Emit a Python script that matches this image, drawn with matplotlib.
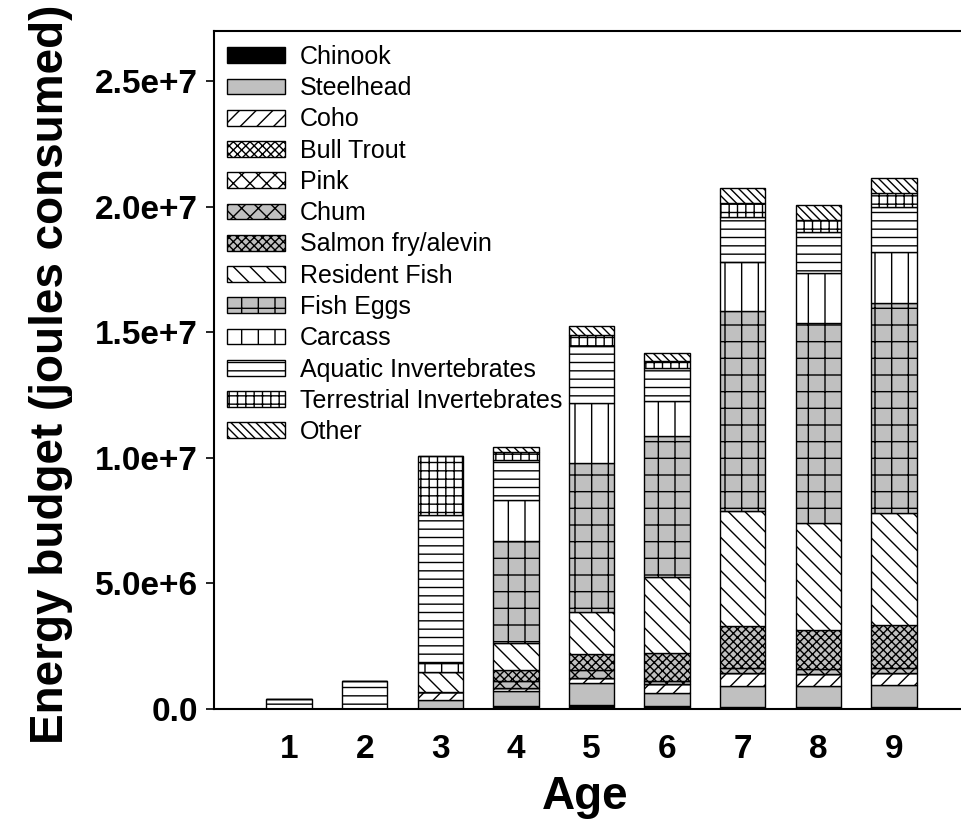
import matplotlib
matplotlib.use("Agg")
import matplotlib.pyplot as plt
import matplotlib.patches as mpatches
import numpy as np

plt.rcParams['font.family'] = ['Liberation Sans', 'DejaVu Sans']
plt.rcParams['hatch.linewidth'] = 1.0

ages = [1, 2, 3, 4, 5, 6, 7, 8, 9]

# energy consumed by prey type, in millions of joules
chinook = [0, 0, 0, 0.12, 0.16, 0.10, 0.09, 0.09, 0.09]
steelhead = [0, 0, 0.36, 0.58, 0.86, 0.52, 0.82, 0.82, 0.86]
coho = [0, 0, 0.33, 0.14, 0.21, 0.37, 0.53, 0.48, 0.50]
bull_trout = [0, 0, 0, 0, 0, 0, 0, 0, 0]
pink = [0, 0, 0, 0, 0, 0, 0, 0, 0]
chum = [0, 0, 0, 0.26, 0.32, 0.13, 0.21, 0.19, 0.20]
salmon_fry = [0, 0, 0, 0.44, 0.66, 1.11, 1.67, 1.58, 1.71]
resident_fish = [0, 0, 0.80, 1.10, 1.65, 3.02, 4.57, 4.26, 4.45]
fish_eggs = [0, 0, 0, 4.04, 5.92, 5.63, 7.96, 7.96, 8.37]
carcass = [0, 0, 0.36, 1.63, 2.42, 1.39, 1.95, 2.00, 2.02]
aquatic_inv = [0.40, 1.10, 5.86, 1.59, 2.25, 1.32, 1.79, 1.61, 1.79]
terrestrial_inv = [0, 0, 2.35, 0.33, 0.46, 0.27, 0.56, 0.48, 0.56]
other = [0, 0, 0, 0.20, 0.33, 0.33, 0.61, 0.59, 0.59]

prey_names = ['Chinook', 'Steelhead', 'Coho', 'Bull Trout', 'Pink', 'Chum',
              'Salmon fry/alevin', 'Resident Fish', 'Fish Eggs', 'Carcass',
              'Aquatic Invertebrates', 'Terrestrial Invertebrates', 'Other']
series = [chinook, steelhead, coho, bull_trout, pink, chum, salmon_fry,
          resident_fish, fish_eggs, carcass, aquatic_inv, terrestrial_inv, other]

y_ticks = [0, 5e6, 1e7, 1.5e7, 2e7, 2.5e7]
y_tick_labels = ['0.0', '5.0e+6', '1.0e+7', '1.5e+7', '2.0e+7', '2.5e+7']

grey = '#c0c0c0'
# (fill, hatch) for each prey type, bottom to top
styles = [
    ('black', ''),
    (grey, ''),
    ('white', '//'),
    ('white', 'xxxx'),
    ('white', 'xx'),
    (grey, 'xx'),
    (grey, 'xxxx'),
    ('white', '\\\\'),
    (grey, '+'),
    ('white', '|'),
    ('white', '--'),
    ('white', '++'),
    ('white', '\\\\\\\\'),
]

fig = plt.figure(figsize=(9.61, 8.23), dpi=100)
ax = fig.add_axes([213.5 / 961, 114 / 823, 756 / 961, 678 / 823])

bottom = np.zeros(len(ages))
for vals, (fc, h) in zip(series, styles):
    v = np.array(vals) * 1e6
    ax.bar(ages, v, bottom=bottom, width=0.6, color=fc, hatch=h,
           edgecolor='black', linewidth=1.0)
    bottom += v

ax.set_xlim(0, 10)
ax.set_ylim(0, 2.7e7)
ax.set_xticks(ages)
ax.set_xticklabels([str(a) for a in ages], fontsize=24, fontweight='bold')
ax.set_yticks(y_ticks)
ax.set_yticklabels(y_tick_labels, fontsize=24, fontweight='bold')
ax.tick_params(axis='x', length=0, pad=18)
ax.tick_params(axis='y', length=6, width=1.2, pad=5, direction='out')
for s in ax.spines.values():
    s.set_linewidth(1.5)

ax.set_xlabel('Age', fontsize=33, fontweight='bold')
ax.set_ylabel('Energy budget (joules consumed)', fontsize=33, fontweight='bold')
ax.xaxis.set_label_coords(0.491, -0.097)
ax.yaxis.set_label_coords(-0.186, 0.493)

handles = [mpatches.Patch(facecolor=fc, hatch=h, edgecolor='black', linewidth=1.0)
           for fc, h in styles]
leg = ax.legend(handles, prey_names, loc='upper left',
                bbox_to_anchor=(227 / 961, 1 - 45 / 823),
                bbox_transform=fig.transFigure, frameon=False, fontsize=18,
                handlelength=2.3, handleheight=0.6, handletextpad=0.6,
                labelspacing=0.29, borderpad=0, borderaxespad=0)

fig.savefig('out.png', dpi=100)
